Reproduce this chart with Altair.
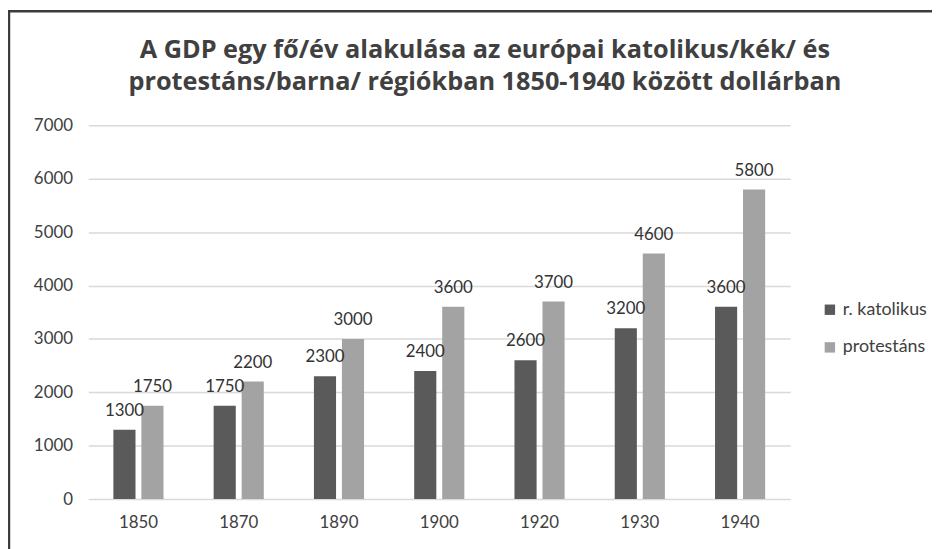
import altair as alt
import pandas as pd

years = ["1850", "1870", "1890", "1900", "1920", "1930", "1940"]
katolikus = [1300, 1750, 2300, 2400, 2600, 3200, 3600]
protestans = [1750, 2200, 3000, 3600, 3700, 4600, 5800]
series_names = ["r. katolikus", "protestáns"]
series_colors = ["#5a5a5a", "#a3a3a3"]
y_ticks = [0, 1000, 2000, 3000, 4000, 5000, 6000, 7000]
title_lines = [
    "A GDP egy fő/év alakulása az európai katolikus/kék/  és",
    "protestáns/barna/ régiókban  1850-1940 között dollárban",
]

rows = []
for i, yr in enumerate(years):
    rows.append({"year": yr, "series": series_names[0], "value": katolikus[i]})
    rows.append({"year": yr, "series": series_names[1], "value": protestans[i]})
df = pd.DataFrame(rows)

FONT = "Lato"
TXT = "#404040"

x_enc = alt.X(
    "year:N", sort=years,
    scale=alt.Scale(paddingInner=0.5, paddingOuter=0.25),
    axis=alt.Axis(title=None, labelAngle=0, domain=False, ticks=False, grid=False,
                  labelPadding=16, labelFontSize=17, labelColor=TXT, labelFont=FONT),
)
xoff_enc = alt.XOffset("series:N", sort=series_names,
                       scale=alt.Scale(paddingInner=0.21, paddingOuter=0))
y_enc = alt.Y(
    "value:Q", scale=alt.Scale(domain=[0, 7000]),
    axis=alt.Axis(title=None, values=y_ticks, format="d", domain=False, ticks=False,
                  labelPadding=16, labelFontSize=17, labelColor=TXT, labelFont=FONT,
                  gridColor="#d9d9d9", gridWidth=1.5),
)
color_enc = alt.Color(
    "series:N", sort=series_names,
    scale=alt.Scale(domain=series_names, range=series_colors),
    legend=alt.Legend(title=None, orient="none", legendX=739, legendY=177,
                      symbolType="square", symbolSize=110, symbolStrokeWidth=0,
                      labelFontSize=18, labelFont=FONT, labelColor=TXT,
                      rowPadding=20, labelOffset=4),
)

bars = alt.Chart(df).mark_bar().encode(
    x=x_enc, xOffset=xoff_enc, y=y_enc, color=color_enc
)
labels = alt.Chart(df).mark_text(
    baseline="alphabetic", dy=-14, fontSize=17, font=FONT, color="#333333"
).encode(x=x_enc, xOffset=xoff_enc, y=y_enc, text="value:Q")

one = pd.DataFrame({"k": [0]})
frame_top = alt.Chart(one).mark_rule(color="#3c3c3c", strokeWidth=2.5).encode(
    x=alt.value(-81), x2=alt.value(860), y=alt.value(-115)
)
frame_left = alt.Chart(one).mark_rule(color="#3c3c3c", strokeWidth=2.5).encode(
    x=alt.value(-80), y=alt.value(-116), y2=alt.value(430)
)

chart = alt.layer(bars, labels, frame_top, frame_left).properties(
    width=708, height=377,
    autosize=alt.AutoSizeParams(type="none"),
    padding={"left": 81, "top": 116, "right": 143, "bottom": 48},
    title=alt.TitleParams(text=title_lines, font="Open Sans", fontSize=25.5, fontWeight="bold",
                          color=TXT, anchor="middle", frame="group", dx=46, offset=0,
                          baseline="top", dy=87, lineHeight=32),
).configure_view(stroke=None)

chart.save("out.html", embed_options={"renderer": "svg", "actions": False})
